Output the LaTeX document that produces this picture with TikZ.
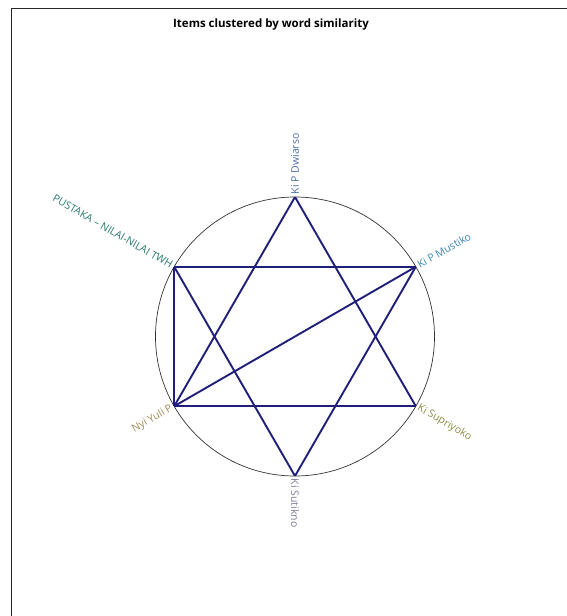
\documentclass[tikz,border=0pt]{standalone}
\usepackage{fontspec}
\setmainfont{Open Sans}
\usepackage{tikz}
\definecolor{edgeblue}{HTML}{1F1F7A}
\definecolor{cDwi}{HTML}{4F6FA8}
\definecolor{cMus}{HTML}{3B87B5}
\definecolor{cPus}{HTML}{2B7A70}
\definecolor{cSup}{HTML}{8C8C45}
\definecolor{cSut}{HTML}{7D7D9E}
\definecolor{cYul}{HTML}{A38C55}

\begin{document}
\begin{tikzpicture}[x=1pt, y=1pt,
        vtx/.style={inner sep=0pt, minimum size=0pt},
        lbl/.style={font=\fontsize{10.5}{12}\selectfont, inner sep=2.5pt},
        link/.style={edgeblue, line width=1.9pt}]
                \useasboundingbox (-295,-279.5) rectangle (272,336.5);
                \draw[line width=1.5pt, black!85] (-283.5,-279.5) -- (-283.5,328) -- (272,328);
                \node[font=\bfseries\fontsize{11.5}{13}\selectfont] (title) at (-24,311.5) {Items clustered by word similarity};
                \draw[black!80, line width=0.7pt] (0,0) circle (139.5);
                \node[vtx] (dwi) at (90:139.5) {};
                \node[vtx] (mus) at (30:139.5) {};
                \node[vtx] (sup) at (-30:139.5) {};
                \node[vtx] (sut) at (-90:139.5) {};
                \node[vtx] (yul) at (210:139.5) {};
                \node[vtx] (pus) at (150:139.5) {};
                \node[lbl, cDwi, rotate=90, anchor=west] (dwiL) at (dwi) {Ki P Dwiarso};
                \node[lbl, cMus, rotate=30, anchor=west] (musL) at (mus) {Ki P Mustiko};
                \node[lbl, cSup, rotate=-30, anchor=west] (supL) at (sup) {Ki Supriyoko};
                \node[lbl, cSut, rotate=-90, anchor=west] (sutL) at (sut) {Ki Sutikno};
                \node[lbl, cYul, rotate=30, anchor=east] (yulL) at (yul) {Nyi Yuli P};
                \node[lbl, cPus, rotate=-30, anchor=east] (pusL) at (pus) {PUSTAKA -- NILAI-NILAI TWH};
                \draw[link] (dwi) -- (yul);
                \draw[link] (dwi) -- (sup);
                \draw[link] (yul) -- (sup);
                \draw[link] (sut) -- (pus);
                \draw[link] (sut) -- (mus);
                \draw[link] (pus) -- (mus);
                \draw[link] (pus) -- (yul);
                \draw[link] (yul) -- (mus);
            \end{tikzpicture}
\end{document}
